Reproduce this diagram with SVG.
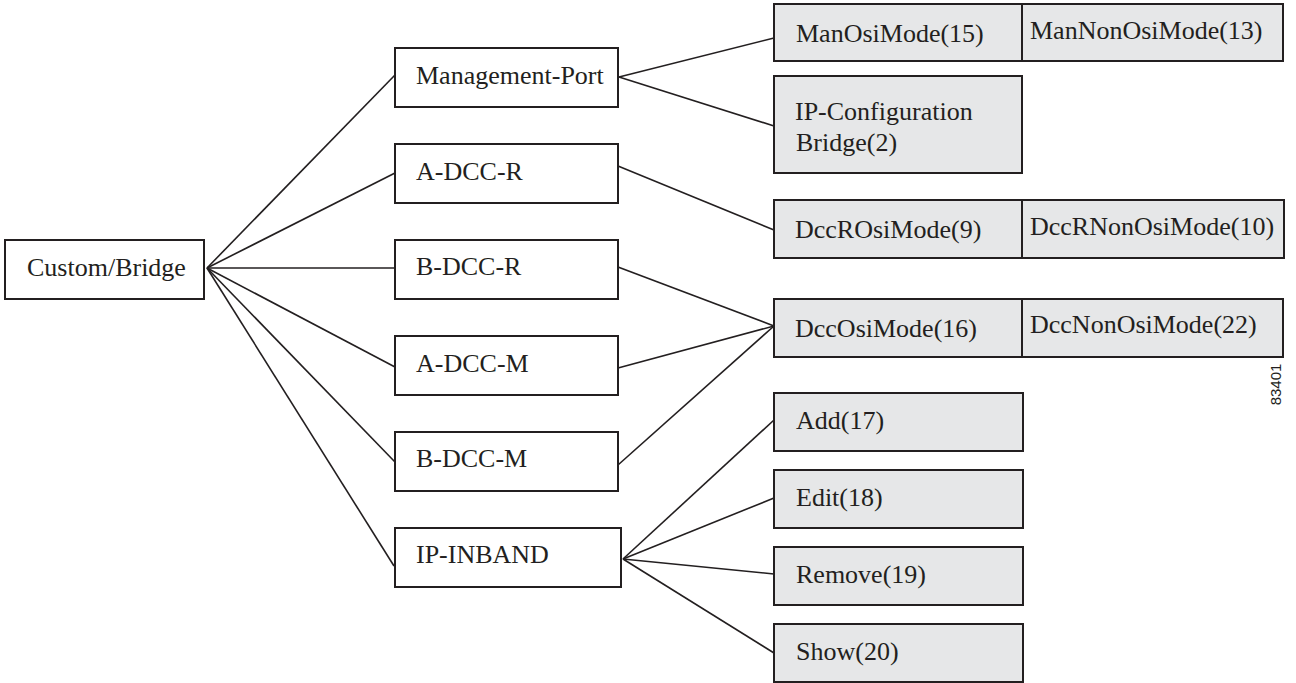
<svg xmlns="http://www.w3.org/2000/svg" width="1296" height="683" viewBox="0 0 1296 683">
<style>
.b{fill:#ffffff;stroke:#231f20;stroke-width:2}
.g{fill:#e6e7e8;stroke:#231f20;stroke-width:2}
text.t{font-family:'Liberation Serif','Times New Roman',Tinos,'DejaVu Serif',serif;font-size:26px;fill:#231f20}
.c line{stroke:#231f20;stroke-width:1.6}
.id{font-family:'Liberation Sans',Arial,sans-serif;font-size:15px;fill:#231f20}
</style>
<rect width="1296" height="683" fill="#ffffff"/>
<g class="c" id="connectors">
<line x1="207" y1="268" x2="395" y2="75"/>
<line x1="207" y1="268" x2="395" y2="173"/>
<line x1="207" y1="268" x2="395" y2="268"/>
<line x1="207" y1="268" x2="395" y2="367"/>
<line x1="207" y1="268" x2="395" y2="462"/>
<line x1="207" y1="268" x2="394" y2="566"/>
<line x1="619" y1="77" x2="774" y2="38"/>
<line x1="619" y1="77" x2="774" y2="126"/>
<line x1="618" y1="166" x2="774" y2="230"/>
<line x1="618" y1="267" x2="774" y2="326"/>
<line x1="618" y1="368" x2="774" y2="326"/>
<line x1="618" y1="465" x2="774" y2="326"/>
<line x1="623" y1="559" x2="774" y2="420"/>
<line x1="623" y1="559" x2="774" y2="498"/>
<line x1="623" y1="559" x2="774" y2="574"/>
<line x1="623" y1="559" x2="774" y2="653"/>
</g>
<g id="custom-bridge"><rect class="b" x="5" y="240" width="199" height="59"/><text class="t" x="27" y="276">Custom/Bridge</text></g>
<g id="management-port"><rect class="b" x="395" y="48" width="223" height="59"/><text class="t" x="416" y="84">Management-Port</text></g>
<g id="a-dcc-r"><rect class="b" x="395" y="144" width="223" height="59"/><text class="t" x="416" y="180">A-DCC-R</text></g>
<g id="b-dcc-r"><rect class="b" x="395" y="240" width="223" height="59"/><text class="t" x="416" y="275">B-DCC-R</text></g>
<g id="a-dcc-m"><rect class="b" x="395" y="336" width="223" height="59"/><text class="t" x="416" y="372">A-DCC-M</text></g>
<g id="b-dcc-m"><rect class="b" x="395" y="432" width="223" height="59"/><text class="t" x="416" y="467">B-DCC-M</text></g>
<g id="ip-inband"><rect class="b" x="395" y="528" width="226" height="59"/><text class="t" x="416" y="563">IP-INBAND</text></g>
<g id="manosimode"><rect class="g" x="774" y="4" width="248" height="57"/><text class="t" x="796" y="42">ManOsiMode(15)</text></g>
<g id="mannonosimode"><rect class="g" x="1022" y="4" width="261" height="57"/><text class="t" x="1030" y="39">ManNonOsiMode(13)</text></g>
<g id="ip-configuration-bridge"><rect class="g" x="774" y="76" width="248" height="97"/><text class="t" x="795" y="120">IP-Configuration</text><text class="t" x="796" y="151">Bridge(2)</text></g>
<g id="dccrosimode"><rect class="g" x="774" y="200" width="248" height="58"/><text class="t" x="795" y="238">DccROsiMode(9)</text></g>
<g id="dccrnonosimode"><rect class="g" x="1022" y="200" width="262" height="58"/><text class="t" x="1030" y="235">DccRNonOsiMode(10)</text></g>
<g id="dccosimode"><rect class="g" x="774" y="299" width="248" height="58"/><text class="t" x="795" y="337">DccOsiMode(16)</text></g>
<g id="dccnonosimode"><rect class="g" x="1022" y="299" width="261" height="58"/><text class="t" x="1030" y="333">DccNonOsiMode(22)</text></g>
<g id="add"><rect class="g" x="774" y="393" width="249" height="58"/><text class="t" x="796" y="429">Add(17)</text></g>
<g id="edit"><rect class="g" x="774" y="470" width="249" height="58"/><text class="t" x="796" y="506">Edit(18)</text></g>
<g id="remove"><rect class="g" x="774" y="547" width="249" height="58"/><text class="t" x="796" y="583">Remove(19)</text></g>
<g id="show"><rect class="g" x="774" y="624" width="249" height="58"/><text class="t" x="796" y="660">Show(20)</text></g>
<text class="id" x="0" y="0" text-anchor="middle" transform="translate(1281,384.5) rotate(-90)">83401</text>
</svg>
